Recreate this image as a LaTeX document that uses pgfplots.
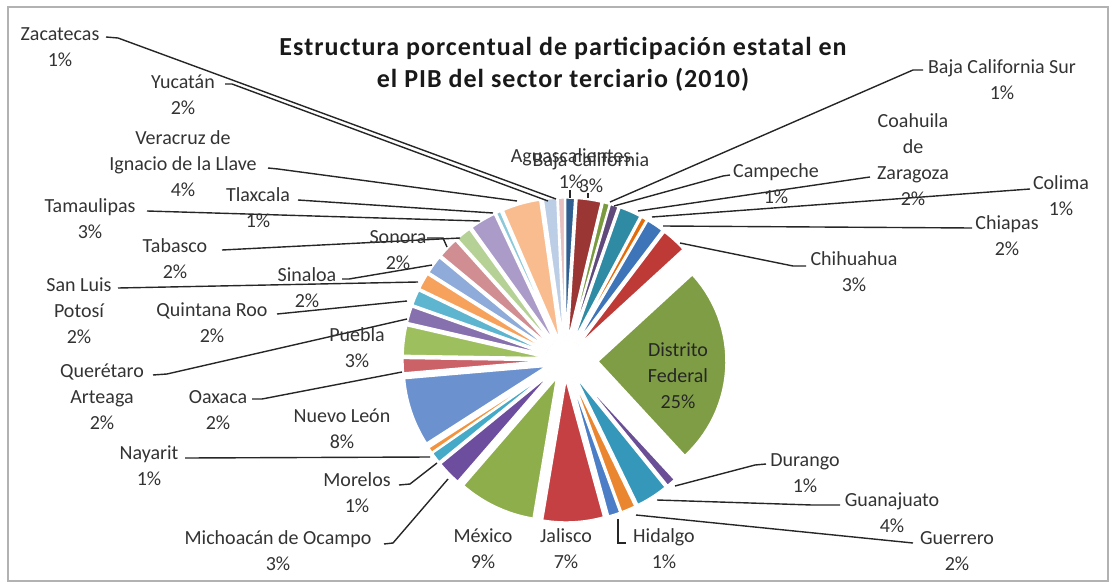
\documentclass[border=0pt]{standalone}
\usepackage{fontspec}
\setmainfont{Carlito}
\usepackage{pgfplots}
\pgfplotsset{compat=1.18}

% shares of the 32 states, in the order Excel draws them (clockwise from 12 o'clock)
\def\shares{1.0,2.7,0.7,0.9,2.4,0.6,1.9,2.8,24.6,1.0,3.6,1.6,1.3,6.8,8.6,2.7,1.2,0.6,7.6,1.6,3.3,1.8,1.7,1.8,2.0,2.3,1.7,2.9,0.5,4.2,1.5,0.7}

\definecolor{c0}{HTML}{2F5F91}\definecolor{c1}{HTML}{9A3634}
\definecolor{c2}{HTML}{7A9A3E}\definecolor{c3}{HTML}{604A7B}
\definecolor{c4}{HTML}{2F8AA4}\definecolor{c5}{HTML}{E36C0A}
\definecolor{c6}{HTML}{3E74B8}\definecolor{c7}{HTML}{BE3A37}
\definecolor{c8}{HTML}{7F9D45}\definecolor{c9}{HTML}{6A4E96}
\definecolor{c10}{HTML}{3597BA}\definecolor{c11}{HTML}{EA862F}
\definecolor{c12}{HTML}{4B7EC6}\definecolor{c13}{HTML}{C44042}
\definecolor{c14}{HTML}{8DAE4B}\definecolor{c15}{HTML}{6C4D9E}
\definecolor{c16}{HTML}{45A9C8}\definecolor{c17}{HTML}{F3933E}
\definecolor{c18}{HTML}{6B92CF}\definecolor{c19}{HTML}{CA6268}
\definecolor{c20}{HTML}{9DBF5E}\definecolor{c21}{HTML}{8670AD}
\definecolor{c22}{HTML}{5DB5CF}\definecolor{c23}{HTML}{F7A25C}
\definecolor{c24}{HTML}{8EABD9}\definecolor{c25}{HTML}{D08E92}
\definecolor{c26}{HTML}{B5D195}\definecolor{c27}{HTML}{AB9BC9}
\definecolor{c28}{HTML}{8BC9DB}\definecolor{c29}{HTML}{F9BC8F}
\definecolor{c30}{HTML}{BCCDE6}\definecolor{c31}{HTML}{E6C0C0}

% slice angles and exploded apex positions (picture coords, y downwards negative)
\gdef\tot{0}
\foreach \v in \shares {\pgfmathsetmacro\tt{\tot+\v}\xdef\tot{\tt}}
\gdef\acc{0}
\foreach \v [count=\i from 0] in \shares {
  \pgfmathsetmacro\sa{\acc/\tot*360}
  \pgfmathsetmacro\ea{(\acc+\v)/\tot*360}
  \pgfmathsetmacro\ma{(\sa+\ea)/2}
  \ifnum\i=8 \def\d{33}\def\r{128}\else\def\d{20}\def\r{142}\fi
  \pgfmathsetmacro\ax{565+\d*sin(\ma)}
  \pgfmathsetmacro\ay{-360+\d*cos(\ma)}
  \expandafter\xdef\csname sa\i\endcsname{\sa}
  \expandafter\xdef\csname ea\i\endcsname{\ea}
  \expandafter\xdef\csname ax\i\endcsname{\ax}
  \expandafter\xdef\csname ay\i\endcsname{\ay}
  \expandafter\xdef\csname rr\i\endcsname{\r}
  \pgfmathsetmacro\n{\acc+\v}\xdef\acc{\n}
}

\tikzset{
  lab/.style={font=\fontsize{10}{13}\selectfont, text=black!80, align=center, inner sep=0pt},
  lead/.style={black!85, line width=0.7pt},
}
\newcommand\lab[3]{\node[lab] at (#1,-#2) {#3};}

\begin{document}
\begin{tikzpicture}
\begin{axis}[
  scale only axis, width=556pt, height=292.5pt,
  xmin=0, xmax=1112, ymin=-585, ymax=0,
  hide axis, clip=false,
]
\path (0,0) rectangle (1112,-585);
\draw[black!30, line width=0.7pt] (8,-7) rectangle (1108,-581);

\pgfplotsinvokeforeach{0,...,31}{
  \addplot[fill=c#1, draw=white, line width=0.7pt, samples=30, variable=\t,
    domain/.expanded={\csname sa#1\endcsname:\csname ea#1\endcsname}]
    ({\csname ax#1\endcsname + \csname rr#1\endcsname*sin(\t)},
     {\csname ay#1\endcsname + \csname rr#1\endcsname*cos(\t)})
    -- (\csname ax#1\endcsname,\csname ay#1\endcsname) -- cycle;
}

\node[font=\bfseries\fontsize{13}{16}\selectfont\addfontfeature{LetterSpace=4}, align=center, text=black!90]
  at (563,-64) {Estructura porcentual de participación estatal en\\el PIB del sector terciario (2010)};

% leader lines
\draw[lead] (106,-37) -- (118,-38) -- (556,-199);
\draw[lead] (225,-84) -- (232,-84) -- (548,-201);
\draw[lead] (268,-168) -- (278,-169) -- (517,-201);
\draw[lead] (298,-200) -- (493,-213);
\draw[lead] (147,-211) -- (480,-221);
\draw[lead] (222,-250) -- (460,-238);
\draw[lead] (427,-238) -- (443,-238) -- (447,-247);
\draw[lead] (342,-279) -- (349,-279) -- (432,-265);
\draw[lead] (118,-288) -- (418,-282);
\draw[lead] (277,-314) -- (407,-301);
\draw[lead] (153,-375) -- (167,-374) -- (407,-319);
\draw[lead] (252,-399) -- (262,-399) -- (402,-372);
\draw[lead] (185,-458) -- (430,-457);
\draw[lead] (399,-485) -- (410,-484) -- (437,-463);
\draw[lead] (384,-544) -- (393,-543) -- (448,-479);
\draw[lead] (626,-543) -- (618,-543) -- (618,-519);
\draw[lead] (913,-543) -- (636,-515);
\draw[lead] (840,-505) -- (812,-505) -- (657,-500);
\draw[lead] (766,-464) -- (755,-465) -- (675,-486);
\draw[lead] (806,-266) -- (793,-266) -- (680,-243);
\draw[lead] (972,-228) -- (663,-226);
\draw[lead] (1030,-189) -- (652,-217);
\draw[lead] (870,-177) -- (863,-178) -- (638,-211);
\draw[lead] (730,-175) -- (723,-176) -- (614,-206);
\draw[lead] (923,-70) -- (913,-70) -- (610,-202);
\draw[lead] (570,-190) -- (570,-198);
\draw[lead] (588,-193) -- (588,-198);

% data labels
\lab{60}{47}{Zacatecas\\1\%}
\lab{183}{95}{Yucatán\\2\%}
\lab{183}{164}{Veracruz de\\Ignacio de la Llave\\4\%}
\lab{258}{208}{Tlaxcala\\1\%}
\lab{90}{219}{Tamaulipas\\3\%}
\lab{175}{259}{Tabasco\\2\%}
\lab{398}{250}{Sonora\\2\%}
\lab{307}{288}{Sinaloa\\2\%}
\lab{79}{311}{San Luis\\Potosí\\2\%}
\lab{212}{323}{Quintana Roo\\2\%}
\lab{357}{348}{Puebla\\3\%}
\lab{102}{397}{Querétaro\\Arteaga\\2\%}
\lab{218}{410}{Oaxaca\\2\%}
\lab{342}{429}{Nuevo León\\8\%}
\lab{149}{466}{Nayarit\\1\%}
\lab{357}{493}{Morelos\\1\%}
\lab{278}{551}{Michoacán de Ocampo\\3\%}
\lab{483}{549}{México\\9\%}
\lab{566}{549}{Jalisco\\7\%}
\lab{664}{549}{Hidalgo\\1\%}
\lab{957}{551}{Guerrero\\2\%}
\lab{892}{513}{Guanajuato\\4\%}
\lab{805}{473}{Durango\\1\%}
\lab{854}{272}{Chihuahua\\3\%}
\lab{1007}{236}{Chiapas\\2\%}
\lab{1061}{196}{Colima\\1\%}
\lab{913}{160}{Coahuila\\de\\Zaragoza\\2\%}
\lab{776}{184}{Campeche\\1\%}
\lab{1002}{80}{Baja California Sur\\1\%}
\lab{571}{169}{Aguascalientes\\1\%}
\lab{591}{173}{Baja California\\3\%}
\node[lab, text=black!85] at (678,-376) {Distrito\\Federal\\25\%};
\end{axis}
\end{tikzpicture}
\end{document}
